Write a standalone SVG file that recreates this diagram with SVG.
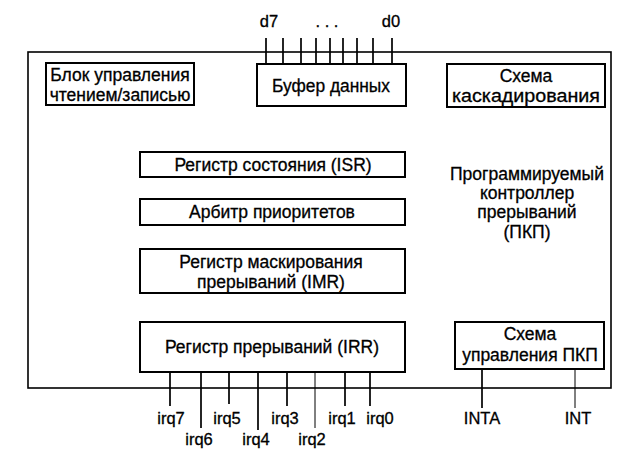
<svg xmlns="http://www.w3.org/2000/svg" width="643" height="456" viewBox="0 0 643 456">
<style>
.box{fill:#fff;stroke:#000;stroke-width:2}
.outer{fill:none;stroke:#000;stroke-width:1.6}
.ln{stroke:#000;stroke-width:1.7;fill:none}
.thin{stroke:#000;stroke-width:1;fill:none}
text{font-family:"Liberation Sans",Arial,sans-serif;font-size:17.5px;fill:#000;stroke:#000;stroke-width:0.3;text-anchor:middle}
.lbl{font-size:16.5px}
</style>
<rect width="643" height="456" fill="#fff"/>
<rect class="outer" x="28" y="52" width="583" height="336"/>
<g id="connectors">
<path class="ln" d="M266 38V64M283 38V64M301 38V64M316 38V64M330 38V64M343 38V64M357 38V64M373 38V64M392 38V64"/>
<path class="ln" d="M170 372V406M201 372V428M229 372V404M258 372V430M287 372V406M345 372V406M370 372V406"/>
<path class="thin" d="M315 372V428"/>
<path class="ln" d="M482 369V408"/>
<path class="thin" d="M575 369V408"/>
</g>
<g id="labels">
<text class="lbl" x="269" y="27">d7</text>
<text class="lbl" x="327" y="27">. . .</text>
<text class="lbl" x="391" y="27">d0</text>
<text class="lbl" x="171" y="424">irq7</text>
<text class="lbl" x="199" y="445">irq6</text>
<text class="lbl" x="227" y="424">irq5</text>
<text class="lbl" x="256" y="445">irq4</text>
<text class="lbl" x="285" y="424">irq3</text>
<text class="lbl" x="312" y="445">irq2</text>
<text class="lbl" x="342" y="424">irq1</text>
<text class="lbl" x="380" y="424">irq0</text>
<text class="lbl" x="482" y="424">INTA</text>
<text class="lbl" x="578" y="424">INT</text>
</g>
<g id="rw"><rect class="box" x="46" y="63" width="148" height="42"/><text x="120" y="81">Блок управления</text><text x="120" y="101">чтением/записью</text></g>
<g id="buf"><rect class="box" x="257" y="64" width="149" height="42"/><text x="331" y="92" textLength="118" lengthAdjust="spacingAndGlyphs">Буфер данных</text></g>
<g id="cas"><rect class="box" x="447" y="64" width="158" height="43"/><text x="526" y="82">Схема</text><text x="526" y="102" textLength="148" lengthAdjust="spacingAndGlyphs">каскадирования</text></g>
<g id="isr"><rect class="box" x="140" y="152" width="265" height="25"/><text x="273" y="171">Регистр состояния (ISR)</text></g>
<g id="arb"><rect class="box" x="140" y="199" width="265" height="26"/><text x="272" y="218">Арбитр приоритетов</text></g>
<g id="imr"><rect class="box" x="140" y="249" width="265" height="44"/><text x="271" y="268">Регистр маскирования</text><text x="271" y="288">прерываний (IMR)</text></g>
<g id="pic"><text x="527" y="180">Программируемый</text><text x="527" y="199">контроллер</text><text x="527" y="218">прерываний</text><text x="527" y="238">(ПКП)</text></g>
<g id="irr"><rect class="box" x="140" y="322" width="265" height="50"/><text x="272" y="353">Регистр прерываний (IRR)</text></g>
<g id="ctl"><rect class="box" x="455" y="322" width="149" height="47"/><text x="530" y="340">Схема</text><text x="530" y="361">управления ПКП</text></g>
</svg>
